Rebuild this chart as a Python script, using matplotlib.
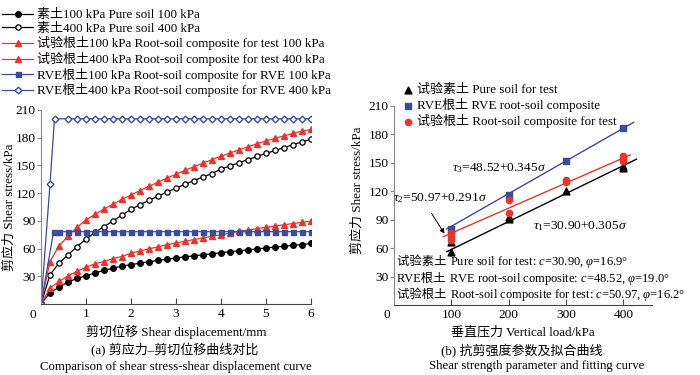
import matplotlib
matplotlib.use("Agg")
import matplotlib.pyplot as plt
import numpy as np

plt.rcParams['font.family'] = ['Liberation Serif', 'Noto Sans CJK SC']
plt.rcParams['mathtext.fontset'] = 'custom'
plt.rcParams['mathtext.rm'] = 'Liberation Serif'
plt.rcParams['mathtext.it'] = 'Liberation Serif:italic'
plt.rcParams['mathtext.bf'] = 'Liberation Serif:bold'
plt.rcParams['font.size'] = 9

FAM = ['Liberation Serif', 'Noto Sans CJK SC']
FS = 9.4

# ---------------- data: panel (a) ----------------
disp = [0.0, 0.2, 0.4, 0.6, 0.8, 1.0, 1.2, 1.4, 1.6, 1.8, 2.0, 2.2, 2.4, 2.6, 2.8, 3.0,
        3.2, 3.4, 3.6, 3.8, 4.0, 4.2, 4.4, 4.6, 4.8, 5.0, 5.2, 5.4, 5.6, 5.8, 6.0]
pure_100 = [0, 12.2, 18.3, 23.7, 27.7, 30.6, 33.5, 36.5, 38.6, 41.0, 42.6, 44.2, 45.7, 47.1, 48.5,
            49.8, 51.0, 52.2, 53.3, 54.4, 55.5, 56.6, 57.6, 58.6, 59.6, 60.6, 61.6, 62.5, 63.4, 64.3, 65.5]
pure_400 = [0, 31.6, 44.2, 53.2, 62.2, 70.1, 77.7, 83.7, 89.9, 96.3, 102.5, 107.5, 112.2, 116.7, 121.2,
            125.5, 129.6, 133.6, 137.5, 141.2, 146.0, 149.5, 152.9, 156.3, 159.7, 163.0, 166.2, 169.3,
            172.4, 175.4, 178.3]
test_100 = [0, 17.3, 24.4, 30.5, 35.2, 39.9, 43.5, 46.0, 49.2, 51.4, 55.0, 57.4, 59.7, 61.9, 64.0,
            66.0, 67.9, 69.8, 71.6, 73.3, 75.0, 76.8, 78.5, 80.1, 81.6, 83.0, 84.4, 85.8, 87.1, 88.4, 89.7]
test_400 = [0, 46.0, 62.9, 73.7, 83.0, 90.9, 97.0, 102.8, 107.9, 113.3, 117.9, 122.8, 127.4, 131.9,
            136.3, 140.5, 144.6, 148.6, 152.5, 156.3, 160.0, 163.5, 166.9, 170.2, 173.4, 176.4, 179.3,
            182.1, 184.6, 187.0, 189.0]
rve100_x = [0.0, 0.28, 0.4, 0.6, 0.8, 1.0, 1.2, 1.4, 1.6, 1.8, 2.0, 2.2, 2.4, 2.6, 2.8, 3.0, 3.2, 3.4,
            3.6, 3.8, 4.0, 4.2, 4.4, 4.6, 4.8, 5.0, 5.2, 5.4, 5.6, 5.8, 6.0]
rve100_y = [0] + [78.3] * 30
rve400_x = [0.0, 0.2, 0.3, 0.6, 0.8, 1.0, 1.2, 1.4, 1.6, 1.8, 2.0, 2.2, 2.4, 2.6, 2.8, 3.0, 3.2, 3.4,
            3.6, 3.8, 4.0, 4.2, 4.4, 4.6, 4.8, 5.0, 5.2, 5.4, 5.6, 5.8, 6.0]
rve400_y = [0, 130, 200.5] + [200.5] * 28

labels_a = ['素土100 kPa Pure soil 100 kPa',
            '素土400 kPa Pure soil 400 kPa',
            '试验根土100 kPa Root-soil composite for test 100 kPa',
            '试验根土400 kPa Root-soil composite for test 400 kPa',
            'RVE根土100 kPa Root-soil composite for RVE 100 kPa',
            'RVE根土400 kPa Root-soil composite for RVE 400 kPa']

# ---------------- data: panel (b) ----------------
pure_load = [100, 100, 200, 200, 300, 400, 400]
pure_tau = [56, 67, 91, 93, 120, 145, 147]
rve_load = [100, 200, 300, 400]
rve_tau = [80, 116, 152, 187]
comp_load = [100, 100, 100, 200, 200, 300, 300, 400, 400, 400]
comp_tau = [76, 72, 69, 111, 97, 130, 132, 152, 155, 157]

fit_a = [29.1, 48.52, 49.3]
fit_b = [0.295, 0.345, 0.2647]
fit_x0 = [92, 92, 86]
fit_x1 = [423, 418, 412]

labels_b = ['试验素土 Pure soil for test', 'RVE根土 RVE root-soil composite', '试验根土 Root-soil composite for test']

BLUE = '#3a4c9e'
RED = '#e8342c'

W, H = 700, 375
fig = plt.figure(figsize=(7, 3.75), dpi=100)

def fx(px):
    return px / W

def fy(py):
    return 1 - py / H

# ---------------- panel (a) ----------------
axa = fig.add_axes([fx(41), fy(304), (311 - 41) / W, (304 - 110) / H])
l1, = axa.plot(disp, pure_100, '-o', color='black', lw=0.9, ms=4.0, mfc='black', mec='black')
l2, = axa.plot(disp, pure_400, '-o', color='black', lw=0.9, ms=3.8, mfc='white', mec='black', mew=0.9)
l3, = axa.plot(disp, test_100, '-^', color=RED, lw=0.9, ms=4.6, mfc=RED, mec=RED)
l4, = axa.plot(disp, test_400, '-^', color=RED, lw=0.9, ms=4.6, mfc=RED, mec=RED)
l5, = axa.plot(rve100_x, rve100_y, '-s', color=BLUE, lw=0.9, ms=3.6, mfc=BLUE, mec=BLUE)
l6, = axa.plot(rve400_x, rve400_y, '-D', color=BLUE, lw=0.9, ms=3.4, mfc='white', mec=BLUE, mew=1.0)
axa.set_xlim(0, 6)
axa.set_ylim(0, 210)
axa.set_xticks([1, 2, 3, 4, 5, 6])
axa.set_yticks([30, 60, 90, 120, 150, 180, 210])
axa.spines['top'].set_visible(False)
axa.spines['right'].set_visible(False)
axa.spines['left'].set_color('#888888')
axa.spines['bottom'].set_color('#444444')
axa.tick_params(axis='x', direction='in', length=4, labelsize=9.6, color='#444444', pad=3)
axa.tick_params(axis='y', direction='out', length=3, labelsize=9.6, color='#888888', pad=1)
fig.text(fx(33), fy(315), '0', fontsize=9.6, ha='center', va='center')
fig.text(fx(10), fy(207), '剪应力 Shear stress/kPa', rotation=90, ha='center', va='center', fontsize=FS, family=FAM)
fig.text(fx(176), fy(332), '剪切位移 Shear displacement/mm', ha='center', va='center', fontsize=FS, family=FAM)
fig.text(fx(175), fy(350), '(a) 剪应力–剪切位移曲线对比', ha='center', va='center', fontsize=FS, family=FAM)
fig.text(fx(176), fy(367), 'Comparison of shear stress-shear displacement curve', ha='center', va='center', fontsize=9.2, family=FAM)

leg = fig.legend([l1, l2, l3, l4, l5, l6], labels_a, loc='upper left', bbox_to_anchor=(fx(2), fy(9)),
                 frameon=False, handlelength=2.4, handletextpad=0.25, labelspacing=0.12,
                 borderaxespad=0, borderpad=0, prop={'family': FAM, 'size': FS})

# ---------------- panel (b) ----------------
axb = fig.add_axes([fx(394), fy(305), (652 - 394) / W, (305 - 106) / H])
cols = ['black', BLUE, RED]
for a, b, x0, x1, c in zip(fit_a, fit_b, fit_x0, fit_x1, cols):
    xs = np.array([x0, x1])
    axb.plot(xs, a + b * xs, color=c, lw=1.0)
p1 = axb.scatter(pure_load, pure_tau, marker='^', s=24, color='black', zorder=3)
p2 = axb.scatter(rve_load, rve_tau, marker='s', s=15, color=BLUE, zorder=3)
p3 = axb.scatter(comp_load, comp_tau, marker='o', s=20, color=RED, zorder=3)
axb.set_xlim(0, 450)
axb.set_ylim(0, 210)
axb.set_xticks([100, 200, 300, 400])
axb.set_yticks([30, 60, 90, 120, 150, 180, 210])
axb.spines['top'].set_visible(False)
axb.spines['right'].set_visible(False)
axb.spines['left'].set_color('#888888')
axb.spines['bottom'].set_color('#444444')
axb.tick_params(axis='x', direction='in', length=4, labelsize=9.6, color='#444444', pad=3)
axb.tick_params(axis='y', direction='out', length=3, labelsize=9.6, color='#888888', pad=1)
fig.text(fx(387), fy(315), '0', fontsize=9.6, ha='center', va='center')
fig.text(fx(358), fy(190), '剪应力 Shear stress/kPa', rotation=90, ha='center', va='center', fontsize=FS, family=FAM)
fig.text(fx(523), fy(332), '垂直压力 Vertical load/kPa', ha='center', va='center', fontsize=FS, family=FAM)
fig.text(fx(522), fy(351), '(b) 抗剪强度参数及拟合曲线', ha='center', va='center', fontsize=FS, family=FAM)
fig.text(fx(537), fy(366), 'Shear strength parameter and fitting curve', ha='center', va='center', fontsize=9.2, family=FAM)

axb.legend([p1, p2, p3], labels_b, loc='upper left', bbox_to_anchor=(fx(403), fy(84)),
           bbox_transform=fig.transFigure, frameon=False, handlelength=0.7, handletextpad=0.35,
           labelspacing=0.15, borderpad=0, borderaxespad=0, prop={'family': FAM, 'size': FS})

# fit equations
fig.text(fx(452), fy(171), r'$\tau_3$=48.52+0.345$\sigma$', fontsize=9.6, ha='left', va='baseline')
fig.text(fx(393), fy(201), r'$\tau_2$=50.97+0.291$\sigma$', fontsize=9.6, ha='left', va='baseline')
fig.text(fx(533), fy(229), r'$\tau_1$=30.90+0.305$\sigma$', fontsize=9.6, ha='left', va='baseline')
fig.add_artist(matplotlib.patches.FancyArrowPatch((fx(430), fy(211)), (fx(446), fy(236)),
                                                  transform=fig.transFigure, arrowstyle='-|>',
                                                  mutation_scale=7, color='black', lw=0.7))

# parameter lines
renderer = fig.canvas.get_renderer()
rows = [('试验素土 ', r'Pure soil for test: $c$=30.90, $\varphi$=16.9°'),
        ('RVE根土 ', r'RVE root-soil composite: $c$=48.52, $\varphi$=19.0°'),
        ('试验根土 ', r'Root-soil composite for test: $c$=50.97, $\varphi$=16.2°')]
ys = [265, 282, 298]
for (cj, rest), ypx in zip(rows, ys):
    t = fig.text(fx(397), fy(ypx), cj, fontsize=8.9, family=FAM, ha='left', va='baseline')
    w = t.get_window_extent(renderer).width
    fig.text(fx(397 + w), fy(ypx), rest, fontsize=9.0, ha='left', va='baseline')

fig.savefig('out.png', dpi=100)
